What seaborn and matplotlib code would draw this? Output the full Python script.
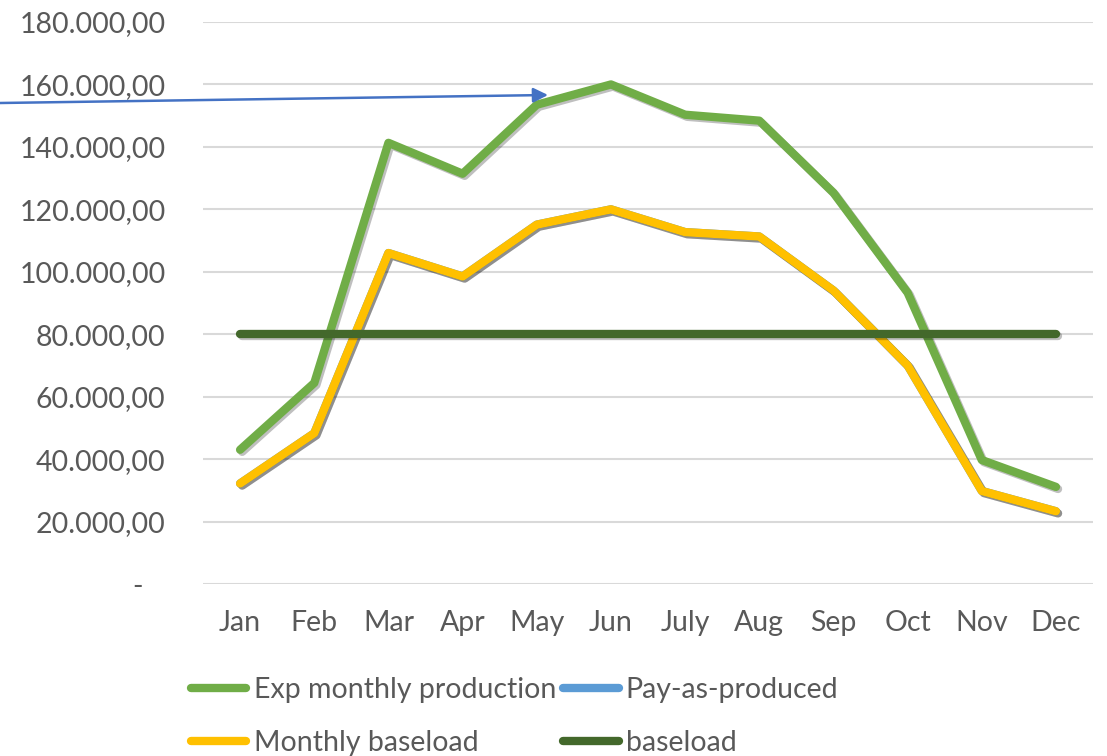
import pandas as pd
import matplotlib
matplotlib.use('Agg')
from matplotlib import pyplot as plt
from matplotlib import patheffects as pe
from matplotlib.ticker import FuncFormatter, MultipleLocator
import seaborn as sns

sns.set_style('white')
plt.rcParams['font.family'] = ['Lato', 'DejaVu Sans']

months = ['Jan', 'Feb', 'Mar', 'Apr', 'May', 'Jun',
          'July', 'Aug', 'Sep', 'Oct', 'Nov', 'Dec']
exp_production = [43000, 64400, 141300, 131400, 153500, 160000,
                  150300, 148400, 125300, 93300, 39700, 31100]
pay_as_produced = [32200, 48300, 106000, 98500, 115100, 120000,
                   112700, 111300, 94000, 70000, 29800, 23300]
monthly_baseload = [32200, 48300, 106000, 98500, 115100, 120000,
                    112700, 111300, 94000, 70000, 29800, 23300]
baseload = [80000] * 12

series = ['Exp monthly production', 'Pay-as-produced', 'Monthly baseload', 'baseload']
colors = ['#70AD47', '#5B9BD5', '#FFC000', '#43682B']

df = pd.concat([
    pd.DataFrame({'month': months, 'value': vals, 'series': name})
    for name, vals in zip(series, [exp_production, pay_as_produced,
                                   monthly_baseload, baseload])
])

fig = plt.figure(figsize=(11.07, 7.56), dpi=100)
ax = fig.add_axes([0.1834, 0.2275, 0.804, 0.7434])

sns.lineplot(data=df, x='month', y='value', hue='series', hue_order=series,
             palette=colors, sort=False, lw=6, ax=ax, legend=False)

shadow = [pe.SimpleLineShadow(offset=(1.5, -1.5), shadow_color='black', alpha=0.25),
          pe.Normal()]
for line in ax.lines:
    line.set_path_effects(shadow)
    line.set_solid_capstyle('round')
    line.set_solid_joinstyle('round')

ax.set_xlim(-0.5, 11.5)
ax.set_ylim(0, 180000)
ax.yaxis.set_major_locator(MultipleLocator(20000))


def fmt(v, pos):
    if v == 0:
        return '-   '
    s = f'{v:,.2f}'
    return s.replace(',', 'X').replace('.', ',').replace('X', '.')


ax.yaxis.set_major_formatter(FuncFormatter(fmt))
ax.grid(axis='y', color='#D9D9D9', lw=1.5)
ax.grid(axis='x', visible=False)
ax.set_axisbelow(True)
for s in ax.spines.values():
    s.set_visible(False)
ax.tick_params(axis='y', length=0, pad=27, labelsize=20.5, labelcolor='#595959')
ax.tick_params(axis='x', length=0, pad=19, labelsize=20.5, labelcolor='#595959')
ax.set_xlabel('')
ax.set_ylabel('')

# legend fills column-wise, so reorder to match the row-wise layout
order = [0, 2, 1, 3]
handles = [plt.Line2D([], [], color=colors[i], lw=6, solid_capstyle='round') for i in order]
labels = [series[i] for i in order]
fig.legend(handles, labels, ncol=2, loc='upper left',
           bbox_to_anchor=(0.1725, 0.105), frameon=False, fontsize=20.5,
           labelcolor='#595959', handlelength=1.95, handletextpad=0.25,
           columnspacing=0.25, labelspacing=0.95, borderpad=0, borderaxespad=0)

ax.annotate('', xy=(548, 756 - 95), xycoords='figure pixels',
            xytext=(0, 756 - 103), textcoords='figure pixels',
            arrowprops=dict(arrowstyle='-|>', color='#4472C4', lw=1.8,
                            mutation_scale=22, shrinkA=0, shrinkB=0))

fig.savefig('out.png', dpi=100)
